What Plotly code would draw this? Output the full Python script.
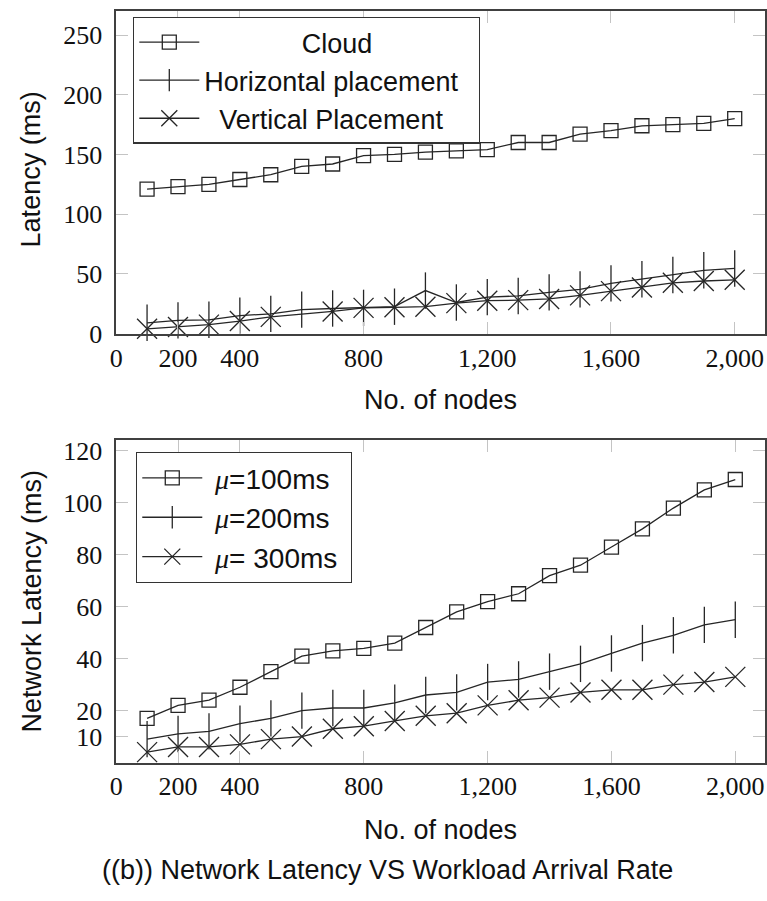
import plotly.graph_objects as go

# ---------------- data ----------------
nodes = [100, 200, 300, 400, 500, 600, 700, 800, 900, 1000,
         1100, 1200, 1300, 1400, 1500, 1600, 1700, 1800, 1900, 2000]

# (top) latency by placement strategy
cloud = [121, 123, 125, 129, 133, 140, 142, 149, 150, 152,
         153, 154, 160, 160, 167, 170, 174, 175, 176, 180]
horizontal = [9, 11, 11.5, 15, 16.5, 20, 21, 21.5, 22.5, 36,
              26, 30.5, 31.5, 34.5, 37, 42, 45.5, 49, 53, 54.5]
vertical_nodes = [100, 200, 300, 400, 500, 700, 800, 900, 1000,
                  1100, 1200, 1300, 1400, 1500, 1600, 1700, 1800, 1900, 2000]
vertical = [4, 5.5, 7.5, 10.5, 14, 18.5, 21.5, 22, 22.5,
            25.5, 27.5, 28, 29, 32, 35.5, 38.5, 42.5, 44, 45]

# (bottom) network latency by arrival rate
mu100 = [17, 22, 24, 29, 35, 41, 43, 44, 46, 52,
         58, 62, 65, 72, 76, 83, 90, 98, 105, 109]
mu200 = [9, 11, 12, 15, 17, 20, 21, 21, 23, 26,
         27, 31, 32, 35, 38, 42, 46, 49, 53, 55]
mu300 = [4, 6, 6, 7, 9, 10, 13, 14, 16, 18,
         19, 22, 24, 25, 27, 28, 28, 30, 31, 33]

x_tickvals = [0, 200, 400, 800, 1200, 1600, 2000]
x_ticktext = ["0", "200", "400", "800", "1,200", "1,600", "2,000"]
y1_tickvals = [0, 50, 100, 150, 200, 250]
y2_tickvals = [10, 20, 40, 60, 80, 100, 120]

MU = "<span style='font-family:Liberation Serif'><i>μ</i></span>"
top_names = ["Cloud", "Horizontal placement", "Vertical Placement"]
bottom_names = [MU + "=100ms", MU + "=200ms", MU + "= 300ms"]

# ---------------- style ----------------
INK = "#262626"
SANS = "Liberation Sans"
SERIF = "Liberation Serif"
FS = 27
LW = 1.3
W, H = 767, 901
NB = "\u00a0"

styles = [
    dict(symbol="square-open", size=14),
    dict(symbol="line-ns-open", size=26),
    dict(symbol="x-thin-open", size=20),
]

fig = go.Figure()

top_series = [(nodes, cloud), (nodes, horizontal), (vertical_nodes, vertical)]
top_pad = [(13, 13), (0, 2), (2, 2)]
for (xs, ys), name, st, (pl, pr) in zip(top_series, top_names, styles, top_pad):
    fig.add_trace(go.Scatter(
        x=xs, y=ys, name=NB * pl + name + NB * pr, mode="lines+markers",
        line=dict(color=INK, width=LW),
        marker=dict(symbol=st["symbol"], size=st["size"], color=INK,
                    line=dict(color=INK, width=LW)),
        cliponaxis=False, xaxis="x", yaxis="y", legend="legend",
    ))

for ys, name, st in zip([mu100, mu200, mu300], bottom_names, styles):
    fig.add_trace(go.Scatter(
        x=nodes, y=ys, name=NB + name + NB, mode="lines+markers",
        line=dict(color=INK, width=LW),
        marker=dict(symbol=st["symbol"], size=st["size"], color=INK,
                    line=dict(color=INK, width=LW)),
        cliponaxis=False, xaxis="x2", yaxis="y2", legend="legend2",
    ))

x_dom = [111 / W, 765 / W]
common_axis = dict(
    showline=True, linecolor="#404040", linewidth=1.5, mirror="ticks",
    ticks="inside", ticklen=12, tickwidth=1, tickcolor="#c4c4c4",
    showgrid=False, zeroline=False,
    tickfont=dict(family=SERIF, size=26, color="#111"),
)
legend_common = dict(xanchor="left", yanchor="top",
                     bgcolor="white", bordercolor="#333", borderwidth=1.3,
                     itemwidth=60, tracegroupgap=0)

fig.update_layout(
    width=W, height=H,
    margin=dict(l=0, r=0, t=0, b=0),
    paper_bgcolor="white", plot_bgcolor="white",
    font=dict(family=SANS, size=FS, color="#111"),
    xaxis=dict(domain=x_dom, range=[0, 2098], anchor="y",
               tickvals=x_tickvals, ticktext=x_ticktext, **common_axis),
    yaxis=dict(domain=[1 - 337.3 / H, 1 - 8.3 / H], range=[0, 270], anchor="x",
               tickvals=y1_tickvals, ticklabelstandoff=7, **common_axis),
    xaxis2=dict(domain=x_dom, range=[0, 2096], anchor="y2",
                tickvals=x_tickvals, ticktext=x_ticktext, **common_axis),
    yaxis2=dict(domain=[1 - 775 / H, 1 - 445.7 / H], range=[0, 124.3], anchor="x2",
                tickvals=y2_tickvals, ticklabelstandoff=7, **common_axis),
    legend=dict(x=128 / W, y=1 - 14 / H,
                font=dict(family=SANS, size=FS, color="#111"), **legend_common),
    legend2=dict(x=131 / W, y=1 - 458 / H,
                 font=dict(family=SANS, size=28, color="#111"), **legend_common),
    showlegend=True,
)

annotations = [
    dict(text="Latency (ms)", x=25 / W, y=1 - 170 / H, textangle=-90),
    dict(text="Network Latency (ms)", x=26 / W, y=1 - 610 / H, textangle=-90),
    dict(text="No. of nodes", x=438 / W, y=1 - 405 / H),
    dict(text="No. of nodes", x=438 / W, y=1 - 844 / H),
    dict(text="((b)) Network Latency VS Workload Arrival Rate", x=385 / W, y=1 - 885 / H),
]
for a in annotations:
    fig.add_annotation(xref="paper", yref="paper", showarrow=False,
                       xanchor="center", yanchor="middle",
                       font=dict(family=SANS, size=FS, color="#111"), **a)

fig.write_html("out.html", config={"displayModeBar": False},
               post_script="document.body.style.margin='0';document.body.style.padding='0';")
